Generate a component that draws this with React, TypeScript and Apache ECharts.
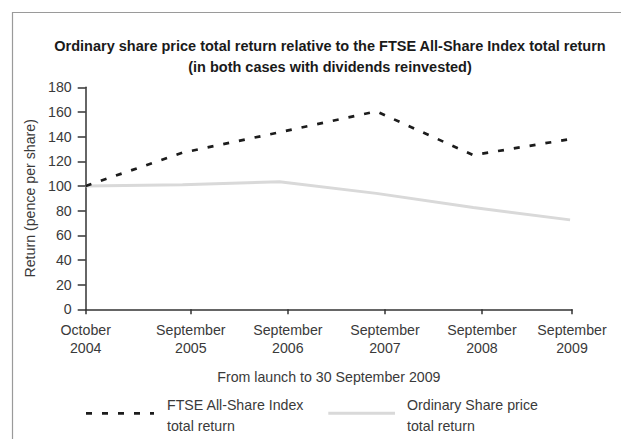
import React, { useEffect, useRef } from "react";
import * as echarts from "echarts";

const tickPositions = [0, 1.085, 2.087, 3.089, 4.09, 5.02];
const tickLabels = [
  "October\n2004",
  "September\n2005",
  "September\n2006",
  "September\n2007",
  "September\n2008",
  "September\n2009",
];
const pointPositions = [0, 1, 2, 3, 4, 5];
const ftseValues = [100, 127, 143.5, 160.5, 125, 138];
const ordinaryValues = [100, 101, 103.5, 94, 82.5, 72.5];
const yTicks = { min: 0, max: 180, interval: 20 };

const FONT = "'Liberation Sans', Arial, Helvetica, sans-serif";

export default function App() {
  const ref = useRef<HTMLDivElement>(null);
  useEffect(() => {
    if (!ref.current) return;
    const chart = echarts.init(ref.current, undefined, { renderer: "svg" });
    const labelFor = (v: number) => {
      let best = 0;
      let bd = Infinity;
      tickPositions.forEach((p, i) => {
        const d = Math.abs(p - v);
        if (d < bd) {
          bd = d;
          best = i;
        }
      });
      return tickLabels[best];
    };
    chart.setOption({
      animation: false,
      backgroundColor: "#ffffff",
      title: {
        text:
          "Ordinary share price total return relative to the FTSE All-Share Index total return\n(in both cases with dividends reinvested)",
        left: 325,
        textAlign: "center",
        top: 31,
        textStyle: {
          fontFamily: FONT,
          fontSize: 14.5,
          fontWeight: "bold",
          color: "#1a1a1a",
          lineHeight: 20.5,
        },
      },
      grid: { left: 85.7, right: 49, top: 87.3, bottom: 129.7, containLabel: false },
      xAxis: {
        type: "value",
        min: 0,
        max: tickPositions[tickPositions.length - 1],
        splitLine: { show: false },
        axisLine: { show: true, lineStyle: { color: "#333", width: 1.5 } },
        axisTick: {
          show: true,
          length: 5,
          customValues: tickPositions,
          lineStyle: { color: "#333", width: 1.5 },
        },
        axisLabel: {
          customValues: tickPositions,
          formatter: (v: number) => labelFor(v),
          fontFamily: FONT,
          fontSize: 14.2,
          color: "#3a3a3a",
          lineHeight: 18,
          margin: 12,
        },
        name: "From launch to 30 September 2009",
        nameLocation: "middle",
        nameGap: 61,
        nameTextStyle: { fontFamily: FONT, fontSize: 14.2, color: "#3a3a3a" },
      },
      yAxis: {
        type: "value",
        min: yTicks.min,
        max: yTicks.max,
        interval: yTicks.interval,
        splitLine: { show: false },
        axisLine: { show: true, lineStyle: { color: "#333", width: 1.5 } },
        axisTick: { show: true, length: 8, lineStyle: { color: "#333", width: 1.5 } },
        axisLabel: {
          fontFamily: FONT,
          fontSize: 14.2,
          color: "#3a3a3a",
          margin: 14,
        },
        name: "Return (pence per share)",
        nameLocation: "middle",
        nameGap: 47,
        nameTextStyle: { fontFamily: FONT, fontSize: 14.2, color: "#3a3a3a" },
      },
      series: [
        {
          name: "Ordinary Share price total return",
          type: "line",
          symbol: "none",
          data: pointPositions.map((x, i) => [x, ordinaryValues[i]]),
          lineStyle: { color: "#d9d9d9", width: 3 },
          z: 2,
        },
        {
          name: "FTSE All-Share Index total return",
          type: "line",
          symbol: "none",
          data: pointPositions.map((x, i) => [x, ftseValues[i]]),
          lineStyle: { color: "#1c1c1c", width: 2.7, type: [6, 10] },
          z: 3,
        },
      ],
      graphic: [
        {
          type: "rect",
          shape: { x: 12.5, y: 12.5, width: 700, height: 600 },
          style: { fill: "none", stroke: "#9a9a9a", lineWidth: 1.2 },
          silent: true,
        },
        {
          type: "line",
          shape: { x1: 86, y1: 413.3, x2: 154, y2: 413.3 },
          style: { stroke: "#1c1c1c", lineWidth: 2.7, lineDash: [6, 10] },
        },
        {
          type: "text",
          x: 167,
          y: 394,
          style: {
            text: "FTSE All-Share Index\ntotal return",
            fontFamily: FONT,
            fontSize: 14.2,
            fill: "#3a3a3a",
            lineHeight: 21,
          },
        },
        {
          type: "line",
          shape: { x1: 328.3, y1: 413.3, x2: 395, y2: 413.3 },
          style: { stroke: "#d9d9d9", lineWidth: 3 },
        },
        {
          type: "text",
          x: 407,
          y: 394,
          style: {
            text: "Ordinary Share price\ntotal return",
            fontFamily: FONT,
            fontSize: 14.2,
            fill: "#3a3a3a",
            lineHeight: 21,
          },
        },
      ],
    });
    return () => chart.dispose();
  }, []);
  return (
    <div
      ref={ref}
      style={{ position: "fixed", left: 0, top: 0, width: 621, height: 439 }}
    />
  );
}
